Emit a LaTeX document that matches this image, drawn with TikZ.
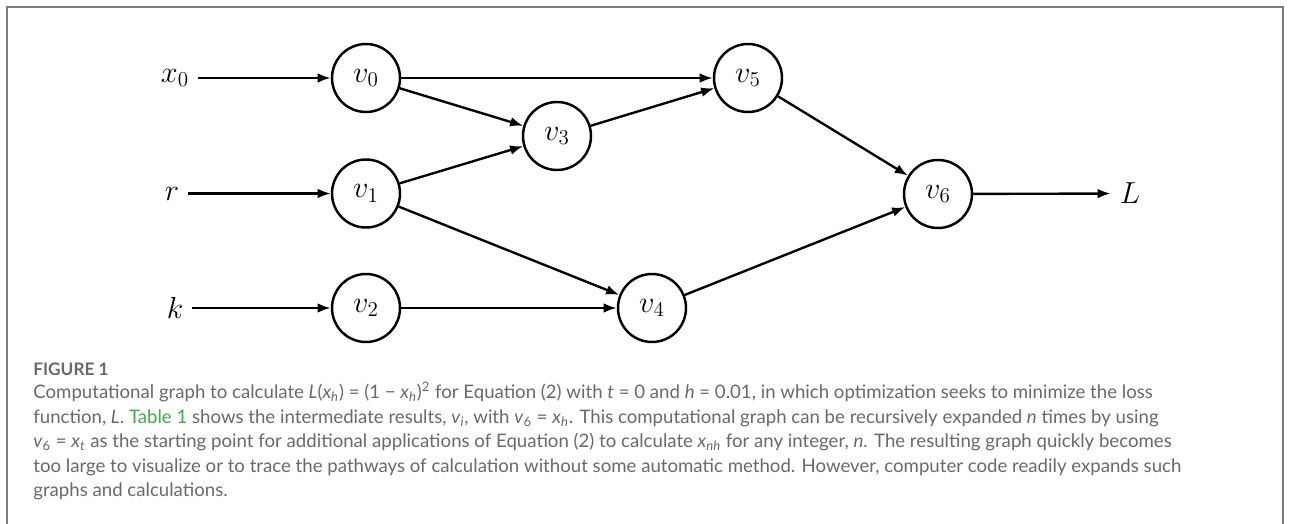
\documentclass[tikz,border=0pt]{standalone}
\usepackage{fontspec}
\setsansfont{Lato}
\usepackage{xcolor}
\usepackage{tikz}
\usetikzlibrary{calc,positioning,arrows.meta}
\definecolor{capgray}{RGB}{105,105,105}
\definecolor{framegray}{RGB}{125,125,125}
\definecolor{linkgreen}{RGB}{64,170,72}

\tikzset{
  opnode/.style={circle, draw, line width=1.4pt, minimum size=1.36cm,
    inner sep=0pt, font=\fontsize{17.28}{20}\selectfont},
  invar/.style={inner sep=5pt, font=\fontsize{17.28}{20}\selectfont},
  flow/.style={-{Latex[length=7.5pt,width=5.5pt]}, line width=1.35pt},
}

\begin{document}
\begin{tikzpicture}
% Canvas matches the 1293x524 figure panel (50 px per cm)
\useasboundingbox (0,0) rectangle (25.86,-10.48);
% Figure frame: open at the bottom, as in the panel
\draw[framegray, line width=0.8pt]
  (0.14,-10.6) -- (0.14,-0.14) -- (25.66,-0.14) -- (25.66,-10.6);
% Operation nodes v0..v6
\node[opnode] (v0) at (7.32,-1.56) {$v_0$};
\node[opnode] (v1) at (7.32,-3.87) {$v_1$};
\node[opnode] (v2) at (7.32,-6.16) {$v_2$};
\node[opnode] (v3) at (11.14,-2.72) {$v_3$};
\node[opnode] (v4) at (13.04,-6.16) {$v_4$};
\node[opnode] (v5) at (14.96,-1.56) {$v_5$};
\node[opnode] (v6) at (18.76,-3.88) {$v_6$};
% Inputs and the loss
\node[invar] (x0) at (3.5,-1.56) {$x_0$};
\node[invar] (r)  at (3.44,-3.87) {$r$};
\node[invar] (k)  at (3.5,-6.16) {$k$};
\node[invar] (L)  at (22.6,-3.87) {$L$};
% Edges
\draw[flow] (x0) -- (v0);
\draw[flow] (r) -- (v1);
\draw[flow] (k) -- (v2);
\draw[flow] (v0) -- (v5);
\draw[flow] (v0) -- (v3);
\draw[flow] (v1) -- (v3);
\draw[flow] (v1) -- (v4);
\draw[flow] (v2) -- (v4);
\draw[flow] (v3) -- (v5);
\draw[flow] (v5) -- (v6);
\draw[flow] (v4) -- (v6);
\draw[flow] (v6) -- (L);
% Caption block
\node[anchor=base west, inner sep=0pt, text=capgray,
  font=\sffamily\bfseries\fontsize{9.8}{11}\selectfont]
  (figlabel) at (0.66,-7.5) {FIGURE 1};
\node[anchor=north west, inner sep=0pt, text=capgray, align=left,
  font=\sffamily\fontsize{10.6}{13.9}\selectfont]
  (caption) at (0.66,-7.64) {%
  Computational graph to calculate \textit{L}(\textit{x}\textsubscript{\textit{h}}) = (1 − \textit{x}\textsubscript{\textit{h}})\textsuperscript{2} for Equation (2) with \textit{t} = 0 and \textit{h} = 0.01, in which optimization seeks to minimize the loss\\
  function, \textit{L}. \textcolor{linkgreen}{Table 1} shows the intermediate results, \textit{v}\textsubscript{\textit{i}}, with \textit{v}\textsubscript{6} = \textit{x}\textsubscript{\textit{h}}. This computational graph can be recursively expanded \textit{n} times by using\\
  \textit{v}\textsubscript{6} = \textit{x}\textsubscript{\textit{t}} as the starting point for additional applications of Equation (2) to calculate \textit{x}\textsubscript{\textit{nh}} for any integer, \textit{n}. The resulting graph quickly becomes\\
  too large to visualize or to trace the pathways of calculation without some automatic method. However, computer code readily expands such\\
  graphs and calculations.};
\end{tikzpicture}
\end{document}
